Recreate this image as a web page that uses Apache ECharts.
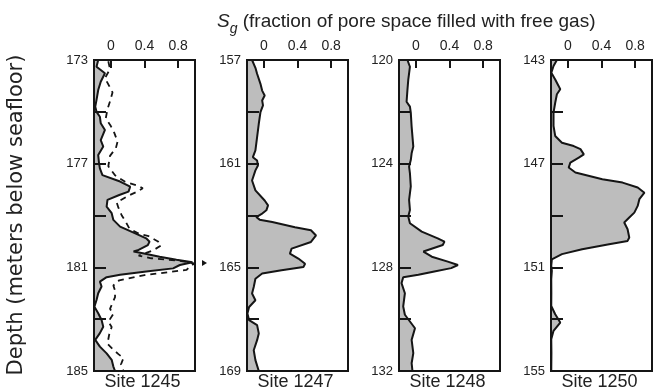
<!DOCTYPE html>
<html><head><meta charset="utf-8">
<script src="https://cdn.jsdelivr.net/npm/echarts@6/dist/echarts.min.js"></script>
<style>html,body{margin:0;padding:0;background:#fff}#c{width:664px;height:392px}</style>
</head><body><div id="c"></div>
<script>
// ---- data (Sg vs depth, mbsf) ----
const sites = ['Site 1245', 'Site 1247', 'Site 1248', 'Site 1250'];
const depthMin = [173, 157, 120, 143];
const xTickVals = [0, 0.4, 0.8];

const depth1245 = [173.0,173.26,173.51,173.84,174.16,174.54,174.8,175.0,175.19,175.44,175.7,176.09,176.34,176.67,176.99,177.18,177.44,177.69,177.89,178.08,178.21,178.4,178.66,178.91,179.17,179.43,179.69,179.88,180.01,180.14,180.33,180.39,180.46,180.59,180.71,180.8,180.91,181.04,181.16,181.29,181.38,181.55,181.74,182.0,182.26,182.52,182.77,183.03,183.29,183.54,183.8,184.06,184.32,184.57,184.83,185.0];
const sg1245 = [-0.15,-0.17,-0.07,-0.12,-0.15,-0.17,-0.185,-0.17,-0.13,-0.12,-0.07,-0.12,-0.09,-0.15,-0.14,-0.13,-0.1,0.11,0.23,0.21,0.1,-0.04,-0.05,0.01,0.03,0.11,0.29,0.42,0.46,0.44,0.33,0.27,0.38,0.58,0.78,0.97,0.82,0.74,0.42,0.11,-0.05,-0.13,-0.11,-0.15,-0.17,-0.195,-0.15,-0.11,-0.09,-0.13,-0.185,-0.13,-0.05,0.01,0.03,0.05];

const depth1245b = [173.05,173.35,173.7,174.0,174.25,174.6,174.9,175.25,175.55,175.8,176.15,176.4,176.7,177.1,177.45,177.7,177.85,177.95,178.1,178.25,178.5,178.7,179.0,179.2,179.5,179.7,179.8,180.0,180.15,180.35,180.55,180.65,180.75,180.85,181.0,181.1,181.3,181.5,181.7,181.9,182.15,182.3,182.6,182.8,183.1,183.3,183.6,183.95,184.15,184.35,184.5,184.75,185.0];
const sg1245b = [-0.03,-0.01,-0.07,-0.02,0.02,-0.01,-0.04,-0.06,0.0,0.04,0.08,0.06,-0.01,-0.03,0.05,0.17,0.32,0.38,0.3,0.2,0.07,0.09,0.13,0.17,0.22,0.33,0.45,0.56,0.6,0.5,0.33,0.48,0.82,0.99,0.93,0.9,0.4,0.1,0.03,0.05,0.05,0.03,-0.01,0.03,-0.03,0.01,-0.02,-0.04,0.02,0.09,0.15,0.12,0.15];

const depth1247 = [157.0,157.3,157.53,157.92,158.18,158.37,158.56,158.75,159.01,159.46,159.98,160.49,160.75,160.88,161.07,161.26,161.65,162.03,162.42,162.61,162.8,162.95,163.06,163.16,163.25,163.45,163.57,163.77,164.02,164.28,164.47,164.66,164.86,164.99,165.11,165.24,165.44,165.76,166.01,166.27,166.53,166.78,167.04,167.23,167.55,167.81,168.2,168.58,169.0];
const sg1247 = [-0.14,-0.1,-0.08,-0.04,-0.02,0.01,-0.02,-0.01,-0.04,-0.06,-0.08,-0.1,-0.13,-0.08,-0.07,-0.1,-0.14,-0.1,0.01,0.05,0.03,-0.03,-0.09,-0.05,0.1,0.37,0.56,0.62,0.56,0.33,0.31,0.41,0.49,0.47,0.21,-0.02,-0.1,-0.12,-0.14,-0.1,-0.175,-0.195,-0.175,-0.08,-0.06,-0.08,-0.12,-0.1,-0.06];

const depth1248 = [120.0,120.26,120.77,121.16,121.61,121.8,122.03,122.57,123.34,123.6,123.86,124.11,124.37,124.88,125.4,125.79,126.04,126.3,126.62,126.88,127.01,127.14,127.39,127.59,127.78,127.91,128.03,128.16,128.29,128.38,128.61,129.0,129.51,129.83,130.09,130.35,130.8,131.31,131.7,132.0];
const sg1248 = [-0.1,-0.07,-0.09,-0.1,-0.11,-0.07,-0.06,-0.05,-0.03,-0.05,-0.06,-0.08,-0.07,-0.06,-0.08,-0.07,-0.09,-0.07,0.07,0.26,0.34,0.32,0.09,0.19,0.38,0.5,0.42,0.22,0.03,-0.15,-0.17,-0.13,-0.15,-0.13,-0.07,-0.01,-0.05,-0.03,-0.05,-0.04];

const depth1250 = [143.0,143.23,143.49,143.75,144.0,144.13,144.32,144.65,145.03,145.54,145.93,146.19,146.32,146.44,146.64,146.77,146.96,147.15,147.34,147.6,147.73,147.92,148.12,148.37,148.63,148.89,149.08,149.27,149.53,149.85,149.98,150.11,150.3,150.49,150.69,150.94,151.14,151.46,151.97,152.49,152.81,153.13,153.45,153.77,154.29,155.0];
const sg1250 = [-0.13,-0.17,-0.196,-0.15,-0.11,-0.09,-0.13,-0.15,-0.17,-0.17,-0.15,-0.07,0.07,0.15,0.19,0.13,0.03,0.01,0.09,0.41,0.65,0.83,0.91,0.85,0.83,0.79,0.73,0.67,0.71,0.73,0.71,0.49,0.17,-0.07,-0.19,-0.197,-0.19,-0.197,-0.196,-0.197,-0.15,-0.09,-0.17,-0.197,-0.195,-0.197];

const profiles = [[depth1245, sg1245], [depth1247, sg1247], [depth1248, sg1248], [depth1250, sg1250]];

// ---- layout / style ----
const XMIN = -0.2, XMAX = 1.0, DRANGE = 12;
const gridLeft = [94, 247, 399, 551], gridW = 101, gridTop = 60, gridH = 311;
const FONT = 'Liberation Sans';
const INK = '#151515', FILL = '#bdbdbd';

const grids = [], xAxes = [], yAxes = [], series = [], graphics = [];
for (let i = 0; i < 4; i++) {
  const dmin = depthMin[i], dmax = dmin + DRANGE;
  grids.push({left: gridLeft[i], top: gridTop, width: gridW, height: gridH, show: true,
    borderColor: INK, borderWidth: 2, backgroundColor: 'transparent', z: 6});
  xAxes.push({type: 'value', gridIndex: i, position: 'top', min: XMIN, max: XMAX, z: 6,
    axisLine: {show: true, onZero: false, lineStyle: {color: INK, width: 2}},
    axisTick: {show: true, inside: true, length: 8, customValues: xTickVals, lineStyle: {color: INK, width: 2}},
    axisLabel: {show: true, customValues: xTickVals, margin: 7, color: '#222', fontSize: 14, fontFamily: FONT,
      formatter: v => String(Math.round(v * 10) / 10)},
    splitLine: {show: false}});
  const tickV = [], labV = [];
  for (let d = dmin; d <= dmax; d += 2) tickV.push(d);
  for (let d = dmin; d <= dmax; d += 4) labV.push(d);
  yAxes.push({type: 'value', gridIndex: i, position: 'left', inverse: true, min: dmin, max: dmax, z: 6,
    axisLine: {show: true, onZero: false, lineStyle: {color: INK, width: 2}},
    axisTick: {show: true, inside: true, length: 12, customValues: tickV, lineStyle: {color: INK, width: 2}},
    axisLabel: {show: true, customValues: labV, margin: 6, color: '#222', fontSize: 13, fontFamily: FONT},
    splitLine: {show: false}});
  const [ds, vs] = profiles[i];
  series.push({type: 'custom', xAxisIndex: i, yAxisIndex: i, z: 1, silent: true,
    data: [[vs[0], ds[0]]], encode: {x: 0, y: 1},
    renderItem: function (params, api) {
      const pts = [api.coord([XMIN, ds[0]])];
      for (let k = 0; k < ds.length; k++) pts.push(api.coord([vs[k], ds[k]]));
      pts.push(api.coord([XMIN, ds[ds.length - 1]]));
      return {type: 'polygon', shape: {points: pts}, style: {fill: FILL}};
    }});
  series.push({type: 'line', xAxisIndex: i, yAxisIndex: i, z: 3, silent: true, showSymbol: false,
    data: ds.map((d, k) => [vs[k], d]), lineStyle: {color: INK, width: 2}});
  graphics.push({type: 'text', left: gridLeft[i] + gridW / 2 - 40, top: 373,
    style: {text: sites[i], font: '18px ' + FONT, fill: '#222', width: 80, align: 'center'}});
}
series.push({type: 'line', xAxisIndex: 0, yAxisIndex: 0, z: 3, silent: true, showSymbol: false,
  data: depth1245b.map((d, k) => [sg1245b[k], d]), lineStyle: {color: INK, width: 1.8, type: [6, 5]}});

graphics.push({type: 'text', x: 17, y: 215, rotation: Math.PI / 2,
  style: {text: 'Depth (meters below seafloor)', font: '21px DejaVu Sans', fill: '#222', align: 'center', verticalAlign: 'middle'}});
graphics.push({type: 'polygon', shape: {points: [[202, 260], [207, 263], [202, 266]]}, style: {fill: INK}});

const chart = echarts.init(document.getElementById('c'), null, {renderer: 'canvas'});
chart.setOption({
  animation: false,
  title: {text: '{s|S}{g|g} (fraction of pore space filled with free gas)', left: 212, top: 2,
    textStyle: {fontFamily: FONT, fontSize: 19, fontWeight: 'normal', color: '#222',
      rich: {s: {fontFamily: FONT, fontSize: 19, fontStyle: 'italic', color: '#222'},
             g: {fontFamily: FONT, fontSize: 14, fontStyle: 'italic', color: '#222', verticalAlign: 'bottom', lineHeight: 29}}}},
  grid: grids, xAxis: xAxes, yAxis: yAxes, series: series, graphic: graphics
});
</script></body></html>
